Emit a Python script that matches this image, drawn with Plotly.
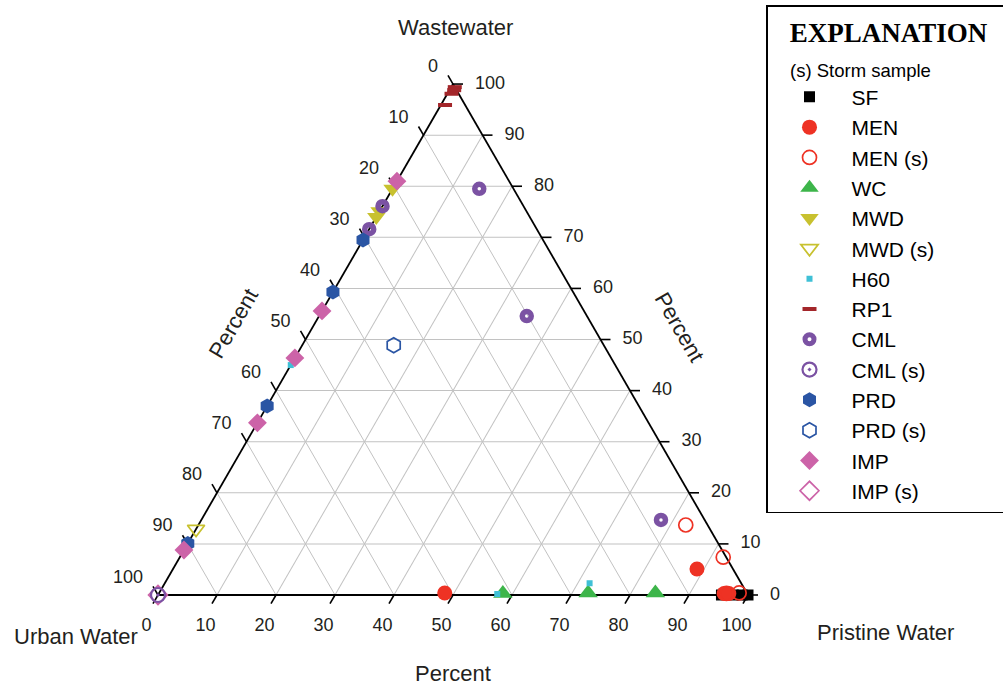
import math
import plotly.graph_objects as go

# ---- composition data (percent): Wastewater (W), Urban Water (U), Pristine Water (P)
SF_W = [0.0, 0.0, 0.0, 0.0]
SF_U = [4.5, 2.5, 1.0, 0.0]
SF_P = [95.5, 97.5, 99.0, 100.0]

MEN_W = [0.4, 5.1, 0.3, 0.3]
MEN_U = [51.2, 6.1, 3.9, 3.1]
MEN_P = [48.4, 88.8, 95.8, 96.6]

MENs_W = [13.7, 7.4, 0.3, 0.4]
MENs_U = [3.7, 0.5, 3.5, 1.3]
MENs_P = [82.6, 92.1, 96.2, 98.3]

WC_W = [0.3, 0.4, 0.4]
WC_U = [41.4, 26.9, 15.5]
WC_P = [58.3, 72.7, 84.1]

MWD_W = [79.5, 75.1, 74.0]
MWD_U = [20.5, 24.9, 26.0]
MWD_P = [0.0, 0.0, 0.0]

MWDs_W = [12.9]
MWDs_U = [87.1]
MWDs_P = [0.0]

H60_W = [45.0, 0.2, 2.3]
H60_U = [55.0, 42.4, 25.7]
H60_P = [0.0, 57.4, 72.0]

RP1_W = [99.4, 98.8, 98.1, 95.9]
RP1_U = [0.0, 0.4, 1.2, 3.4]
RP1_P = [0.6, 0.8, 0.7, 0.7]

CML_W = [76.1, 71.6, 79.5, 54.6, 14.7]
CML_U = [23.9, 28.4, 5.8, 10.2, 7.4]
CML_P = [0.0, 0.0, 14.7, 35.2, 77.9]

CMLs_W = [0.0]
CMLs_U = [100.0]
CMLs_P = [0.0]

PRD_W = [69.5, 59.3, 37.0, 10.1]
PRD_U = [30.5, 40.7, 63.0, 89.9]
PRD_P = [0.0, 0.0, 0.0, 0.0]

PRDs_W = [48.9]
PRDs_U = [35.6]
PRDs_P = [15.5]

IMP_W = [81.0, 55.6, 46.4, 33.7, 8.8]
IMP_U = [19.0, 44.4, 53.6, 66.3, 91.2]
IMP_P = [0.0, 0.0, 0.0, 0.0, 0.0]

IMPs_W = [0.0]
IMPs_U = [100.0]
IMPs_P = [0.0]

TICK_VALUES = [0, 10, 20, 30, 40, 50, 60, 70, 80, 90, 100]
TICK_LABELS = [str(v) for v in TICK_VALUES]

# ---- styling
SANS = "Liberation Sans, Arial, sans-serif"
SERIF = "Liberation Serif, Times New Roman, serif"
TXT = "#231f20"

RED = "#ee3224"
GREEN = "#3db54a"
OLIVE = "#c8c12f"
CYAN = "#3fc0d6"
DARKRED = "#a3262a"
PURPLE = "#7b52a3"
BLUE = "#2a55a4"
PINK = "#cc63a8"

SQ3 = math.sqrt(3)

# ---- page / triangle geometry (pixels)
W_PX, H_PX = 1003, 685
X_LEFT, X_RIGHT, Y_BOTTOM = 158, 748, 595
SIDE = X_RIGHT - X_LEFT
Y_TOP = Y_BOTTOM - SIDE * SQ3 / 2
PX = 100.0 / SIDE  # one pixel, in percent of the side length


def to_xy(a, b, c):
    """Ternary (top, bottom-left, bottom-right) -> cartesian with side = 100."""
    return c + a / 2.0, a * SQ3 / 2.0


fig = go.Figure()

# ---- data series (ternary subplot)
series = [
    ("SF", SF_W, SF_U, SF_P, dict(symbol="square", size=11, color="black")),
    ("MEN", MEN_W, MEN_U, MEN_P, dict(symbol="circle", size=15, color=RED)),
    ("MEN (s)", MENs_W, MENs_U, MENs_P,
     dict(symbol="circle-open", size=14, color=RED, line=dict(width=1.7))),
    ("WC", WC_W, WC_U, WC_P, dict(symbol="triangle-up", size=17, color=GREEN)),
    ("MWD", MWD_W, MWD_U, MWD_P, dict(symbol="triangle-down", size=16, color=OLIVE)),
    ("MWD (s)", MWDs_W, MWDs_U, MWDs_P,
     dict(symbol="triangle-down-open", size=15, color=OLIVE, line=dict(width=1.7))),
    ("H60", H60_W, H60_U, H60_P, dict(symbol="square", size=6, color=CYAN)),
    ("RP1", RP1_W, RP1_U, RP1_P,
     dict(symbol="line-ew", size=10, line=dict(color=DARKRED, width=4))),
    ("CML", CML_W, CML_U, CML_P,
     dict(symbol="circle-open", size=9, color=PURPLE, line=dict(width=5.5))),
    ("CML (s)", CMLs_W, CMLs_U, CMLs_P,
     dict(symbol="circle-open-dot", size=14, color=PURPLE, line=dict(width=2.2))),
    ("PRD", PRD_W, PRD_U, PRD_P, dict(symbol="hexagon", size=15, color=BLUE)),
    ("PRD (s)", PRDs_W, PRDs_U, PRDs_P,
     dict(symbol="hexagon-open", size=15, color=BLUE, line=dict(width=1.7))),
    ("IMP", IMP_W, IMP_U, IMP_P, dict(symbol="diamond", size=14.5, color=PINK)),
    ("IMP (s)", IMPs_W, IMPs_U, IMPs_P,
     dict(symbol="diamond-open", size=14.5, color=PINK, line=dict(width=1.7))),
]
# drawing order: the corner storm samples sit on top of the open diamond
draw_order = ["SF", "MEN", "MEN (s)", "WC", "MWD", "MWD (s)", "H60", "RP1",
              "IMP (s)", "CML", "PRD", "PRD (s)", "IMP", "CML (s)"]
rank = {s[0]: i for i, s in enumerate(series)}
lookup = {s[0]: s for s in series}
for key in draw_order:
    name, w, u, p, mk = lookup[key]
    fig.add_trace(go.Scatterternary(
        a=w, b=u, c=p, name=name, mode="markers", marker=mk, cliponaxis=False,
        legendrank=100 + rank[name],
    ))

# ---- tick marks and labels, drawn on an invisible cartesian overlay
TICK_LEN = 10 * PX
edges = [
    # points on the edge, outward tick direction (unit vector), label offset, anchor
    ("right", [(v, 0.0, 100.0 - v) for v in TICK_VALUES], (1.0, 0.0),
     (22 * PX, 0.0), "middle right"),
    ("left", [(100.0 - v, v, 0.0) for v in TICK_VALUES], (-0.5, SQ3 / 2),
     (-15 * PX, 17 * PX), "middle left"),
    ("bottom", [(0.0, 100.0 - v, v) for v in TICK_VALUES], (-0.5, -SQ3 / 2),
     (-11.5 * PX, -31 * PX), "middle center"),
]
for _, pts, (ux, uy), (lx, ly), pos in edges:
    xs, ys, tx, ty = [], [], [], []
    for a, b, c in pts:
        x0, y0 = to_xy(a, b, c)
        xs += [x0, x0 + ux * TICK_LEN, None]
        ys += [y0, y0 + uy * TICK_LEN, None]
        tx.append(x0 + lx)
        ty.append(y0 + ly)
    fig.add_trace(go.Scatter(
        x=xs, y=ys, mode="lines", line=dict(color="black", width=1.6),
        showlegend=False, hoverinfo="skip",
    ))
    fig.add_trace(go.Scatter(
        x=tx, y=ty, mode="text", text=TICK_LABELS, textposition=pos,
        showlegend=False, hoverinfo="skip",
        textfont=dict(family=SANS, size=18, color=TXT),
    ))

axis_common = dict(
    showticklabels=False, ticks="", showline=True, linecolor="black", linewidth=1.8,
    showgrid=True, gridcolor="#c2c2c2", gridwidth=1.3, dtick=10, tick0=0,
    layer="below traces", title=dict(text=""),
)

NB = "&nbsp;"
fig.update_layout(
    width=W_PX, height=H_PX, autosize=False,
    margin=dict(l=0, r=0, t=0, b=0, autoexpand=False),
    paper_bgcolor="white",
    plot_bgcolor="rgba(0,0,0,0)",
    xaxis=dict(visible=False, range=[-X_LEFT * PX, (W_PX - X_LEFT) * PX],
               domain=[0, 1], fixedrange=True),
    yaxis=dict(visible=False, range=[-(H_PX - Y_BOTTOM) * PX, Y_BOTTOM * PX],
               domain=[0, 1], fixedrange=True),
    ternary=dict(
        sum=100,
        bgcolor="white",
        domain=dict(x=[X_LEFT / W_PX, X_RIGHT / W_PX],
                    y=[1 - Y_BOTTOM / H_PX, 1 - Y_TOP / H_PX]),
        aaxis=axis_common, baxis=axis_common, caxis=axis_common,
    ),
    legend=dict(
        x=766 / W_PX, y=1 - 5 / H_PX, xanchor="left", yanchor="top",
        bordercolor="black", borderwidth=1.5, bgcolor="white",
        font=dict(family=SANS, size=21, color="black"),
        itemwidth=74,
        title=dict(
            text=(NB * 3 + "<b>EXPLANATION</b>" + NB * 14 + "<br>"
                  "<span style='font-family:Liberation Sans;font-size:18.5px'>"
                  + NB * 4 + "(s) Storm sample</span>"),
            font=dict(family=SERIF, size=27, color="black"),
        ),
        traceorder="normal",
    ),
    showlegend=True,
    annotations=[
        dict(text="Wastewater", x=455 / W_PX, y=1 - 28 / H_PX),
        dict(text="Urban Water", x=76 / W_PX, y=1 - 636 / H_PX),
        dict(text="Pristine Water", x=885 / W_PX, y=1 - 632 / H_PX),
        dict(text="Percent", x=453 / W_PX, y=1 - 673 / H_PX),
        dict(text="Percent", x=233 / W_PX, y=1 - 323 / H_PX, textangle=-60),
        dict(text="Percent", x=680 / W_PX, y=1 - 327 / H_PX, textangle=60),
    ],
)
fig.update_annotations(xref="paper", yref="paper", showarrow=False,
                       xanchor="center", yanchor="middle",
                       font=dict(family=SANS, size=22, color=TXT))

fig.write_html("out.html")
